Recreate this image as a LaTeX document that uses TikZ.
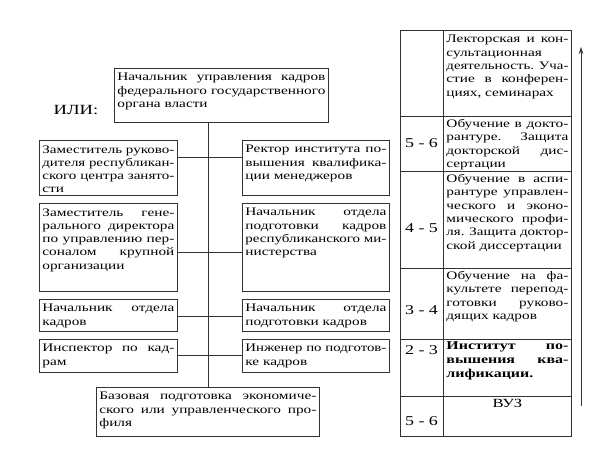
\documentclass[tikz,border=0pt]{standalone}
\usepackage{fontspec}
\usepackage{graphicx}
\setmainfont{Liberation Serif}[FakeStretch=1.33]
\usetikzlibrary{arrows.meta}
\newsavebox\jlbox
\newcommand\jl[1]{\sbox\jlbox{#1}\ifdim\wd\jlbox>\linewidth\resizebox{\linewidth}{\height}{\usebox\jlbox}\else\makebox[\linewidth][s]{#1}\fi\\}
\newcommand\bxn[6]{\node[box] (#1) at (#2,#3) {\parbox[t][#5pt][t]{#4pt}{\vspace*{5pt}#6}};}
\begin{document}
\begin{tikzpicture}[x=1pt,y=-1pt,
  box/.style={draw=black!80, line width=0.8pt, anchor=north west, inner xsep=3pt, inner ysep=0pt,
    font=\fontsize{11.5}{13.3}\selectfont},
  conn/.style={draw=black!80, line width=0.8pt},
  cell/.style={draw=black!80, line width=0.9pt, anchor=north west, inner sep=0pt},
  num/.style={font=\fontsize{13.5}{15}\selectfont, inner sep=0pt}]
\useasboundingbox (0,0) rectangle (612,468);

\node[font=\fontsize{14}{16}\selectfont, inner sep=0pt] (ili) at (76,110) {ИЛИ:};

\bxn{top}{114}{68}{208}{54}{\jl{Начальник управления кадров}\jl{федерального государственного}органа власти}

\bxn{L1}{39}{140}{132}{55}{\jl{Заместитель руково-}\jl{дителя республикан-}\jl{ского центра занято-}сти}
\bxn{R1}{242}{140}{141}{55}{\jl{Ректор института по-}\jl{вышения квалифика-}ции менеджеров}

\bxn{L2}{39}{203}{132}{88}{\jl{Заместитель гене-}\jl{рального директора}\jl{по управлению пер-}\jl{соналом крупной}организации}
\bxn{R2}{242}{203}{141}{88}{\jl{Начальник отдела}\jl{подготовки кадров}\jl{республиканского ми-}нистерства}

\bxn{L3}{39}{299}{132}{32}{\jl{Начальник отдела}кадров}
\bxn{R3}{242}{299}{141}{32}{\jl{Начальник отдела}подготовки кадров}

\bxn{L4}{39}{339}{132}{33}{\jl{Инспектор по кад-}рам}
\bxn{R4}{242}{339}{141}{33}{\jl{Инженер по подготов-}ке кадров}

\bxn{bot}{96}{387}{217}{49}{\jl{Базовая подготовка экономиче-}\jl{ского или управленческого про-}филя}

\draw[conn] (top.south -| bot.north) -- (bot.north);
\draw[conn] (L1.east |- 0,157) -- (R1.west |- 0,157);
\draw[conn] (L2.east |- 0,252) -- (R2.west |- 0,252);
\draw[conn] (L3.east |- 0,316) -- (R3.west |- 0,316);
\draw[conn] (L4.east |- 0,355) -- (R4.west |- 0,355);

% table
\node[cell, minimum width=43pt, minimum height=86pt] (n1) at (400,30) {};
\node[cell, minimum width=43pt, minimum height=55pt] (n2) at (400,116) {};
\node[cell, minimum width=43pt, minimum height=97pt] (n3) at (400,171) {};
\node[cell, minimum width=43pt, minimum height=71pt] (n4) at (400,268) {};
\node[cell, minimum width=43pt, minimum height=57pt] (n5) at (400,339) {};
\node[cell, minimum width=43pt, minimum height=40pt] (n6) at (400,396) {};

\node[cell, inner xsep=3pt, font=\fontsize{11.5}{13.3}\selectfont] (t1) at (443,30)
  {\parbox[t][86pt][t]{122pt}{\vspace*{5pt}\jl{Лекторская и кон-}сультационная\\\jl{деятельность. Уча-}\jl{стие в конферен-}циях, семинарах}};
\node[cell, inner xsep=3pt, font=\fontsize{11.5}{13.3}\selectfont] (t2) at (443,116)
  {\parbox[t][55pt][t]{122pt}{\vspace*{3pt}\jl{Обучение в докто-}\jl{рантуре. Защита}\jl{докторской дис-}сертации}};
\node[cell, inner xsep=3pt, font=\fontsize{11.5}{13.3}\selectfont] (t3) at (443,171)
  {\parbox[t][97pt][t]{122pt}{\vspace*{3pt}\jl{Обучение в аспи-}\jl{рантуре управлен-}\jl{ческого и эконо-}\jl{мического профи-}\jl{ля. Защита доктор-}ской диссертации}};
\node[cell, inner xsep=3pt, font=\fontsize{11.5}{13.3}\selectfont] (t4) at (443,268)
  {\parbox[t][71pt][t]{122pt}{\vspace*{3pt}\jl{Обучение на фа-}\jl{культете перепод-}\jl{готовки руково-}дящих кадров}};
\node[cell, inner xsep=3pt, font=\bfseries\fontsize{12}{14}\selectfont] (t5) at (443,339)
  {\parbox[t][57pt][t]{122pt}{\vspace*{2pt}\jl{Институт по-}\jl{вышения ква-}лификации.}};
\node[cell, inner xsep=3pt, font=\fontsize{12.5}{14}\selectfont] (t6) at (443,396)
  {\parbox[t][40pt][t]{122pt}{\vspace*{3pt}\centering ВУЗ}};

\node[num] (k2) at (421.5,143) {5 - 6};
\node[num] (k3) at (421.5,228) {4 - 5};
\node[num] (k4) at (421.5,310) {3 - 4};
\node[num] (k5) at (421.5,350) {2 - 3};
\node[num] (k6) at (421.5,421) {5 - 6};

\coordinate (ab) at (581,406);
\coordinate (at) at (581,47);
\draw[conn, -{Stealth[length=7pt,width=4.5pt]}] (ab) -- (at);
\end{tikzpicture}
\end{document}
